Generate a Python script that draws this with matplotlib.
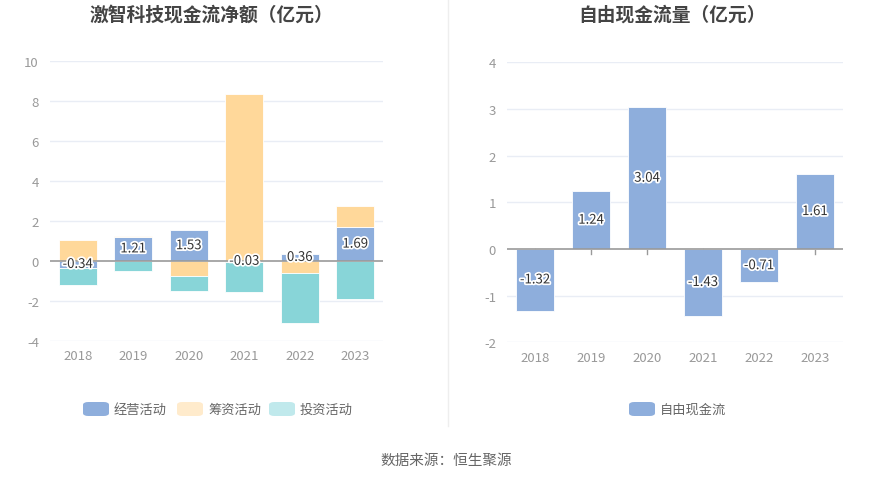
import matplotlib
matplotlib.use("Agg")
import matplotlib.pyplot as plt
import matplotlib.patheffects as pe
from matplotlib.patches import FancyBboxPatch
import numpy as np

plt.rcParams['font.family'] = ['Noto Sans CJK SC', 'DejaVu Sans']

years = ['2018', '2019', '2020', '2021', '2022', '2023']
operating = [-0.34, 1.21, 1.53, -0.03, 0.36, 1.69]
financing = [1.07, 0.03, -0.75, 8.36, -0.62, 1.04]
investing = [-0.86, -0.50, -0.75, -1.51, -2.50, -1.89]
free_cf = [-1.32, 1.24, 3.04, -1.43, -0.71, 1.61]

c_op = '#8eaedc'
c_fin = '#ffd89a'
c_inv = '#88d5d8'
c_fin_leg = '#ffebcc'
c_inv_leg = '#c0e9ec'
grid_c = '#e9edf5'
tick_c = '#999999'

fig = plt.figure(figsize=(8.93, 4.81), dpi=100)

ax1 = fig.add_axes([0.056, 0.289, 0.373, 0.582])
ax2 = fig.add_axes([0.568, 0.286, 0.376, 0.582])

label_fx = [pe.withStroke(linewidth=2.5, foreground='white')]


def style_axis(ax, ylim, yticks):
    ax.set_ylim(*ylim)
    ax.set_xlim(-0.5, len(years) - 0.5)
    ax.set_yticks(yticks)
    ax.set_yticklabels([str(t) for t in yticks], color=tick_c, fontsize=9.5)
    ax.set_xticks(range(len(years)))
    ax.set_xticklabels(years, color=tick_c, fontsize=9.5)
    for s in ax.spines.values():
        s.set_visible(False)
    ax.tick_params(axis='y', length=0, pad=8)
    ax.tick_params(axis='x', length=0, pad=6)
    for t in yticks:
        if t != 0:
            ax.axhline(t, color=grid_c, lw=1, zorder=0)
    ax.axhline(0, color='#9a9a9a', lw=1.2, zorder=3)
    for i in range(len(years)):
        ax.plot([i, i], [0, -(ylim[1] - ylim[0]) * 0.016], color='#9a9a9a', lw=1, zorder=1)


# left chart: stacked with separate positive / negative stacks
x = np.arange(len(years))
w = 0.68
pos_base = np.zeros(len(years))
neg_base = np.zeros(len(years))
op_mid = []
for series, col in [(operating, c_op), (financing, c_fin), (investing, c_inv)]:
    vals = np.array(series)
    bottoms = np.where(vals >= 0, pos_base, neg_base)
    ax1.bar(x, vals, w, bottom=bottoms, color=col, edgecolor='white', linewidth=0.6, zorder=2)
    if series is operating:
        op_mid = bottoms + vals / 2
    pos_base = pos_base + np.where(vals >= 0, vals, 0)
    neg_base = neg_base + np.where(vals < 0, vals, 0)

style_axis(ax1, (-4, 10), [-4, -2, 0, 2, 4, 6, 8, 10])
for i, v in enumerate(operating):
    ax1.text(x[i], op_mid[i], f'{v:.2f}', ha='center', va='center', fontsize=9.5,
             color='#333333', path_effects=label_fx, zorder=5)

# right chart
ax2.bar(x, free_cf, w, color=c_op, edgecolor='white', linewidth=0.6, zorder=2)
style_axis(ax2, (-2, 4), [-2, -1, 0, 1, 2, 3, 4])
for i, v in enumerate(free_cf):
    ax2.text(x[i], v / 2, f'{v:.2f}', ha='center', va='center', fontsize=9.5,
             color='#333333', path_effects=label_fx, zorder=5)

# titles
fig.text(0.237, 0.968, '激智科技现金流净额（亿元）', ha='center', va='center',
         fontsize=13.5, fontweight='bold', color='#444444')
fig.text(0.752, 0.968, '自由现金流量（亿元）', ha='center', va='center',
         fontsize=13.5, fontweight='bold', color='#444444')

# divider
fig.add_artist(plt.Line2D([448 / 893, 448 / 893], [1 - 427 / 481, 1], color='#eeeeee', lw=1))


# legends
def legend_item(px, py, color, text):
    fig.add_artist(FancyBboxPatch((px / 893, 1 - (py + 7) / 481), 26 / 893, 14 / 481,
                                  boxstyle='round,pad=0,rounding_size=0.006',
                                  transform=fig.transFigure, facecolor=color, edgecolor='none'))
    fig.text((px + 31) / 893, 1 - py / 481, text, ha='left', va='center', fontsize=9.5, color='#666666')


legend_item(83, 410, c_op, '经营活动')
legend_item(177, 410, c_fin_leg, '筹资活动')
legend_item(269, 410, c_inv_leg, '投资活动')
legend_item(629, 410, c_op, '自由现金流')

fig.text(0.5, 1 - 461 / 481, '数据来源：恒生聚源', ha='center', va='center', fontsize=10.5, color='#666666')

fig.savefig('out.png', dpi=100)
